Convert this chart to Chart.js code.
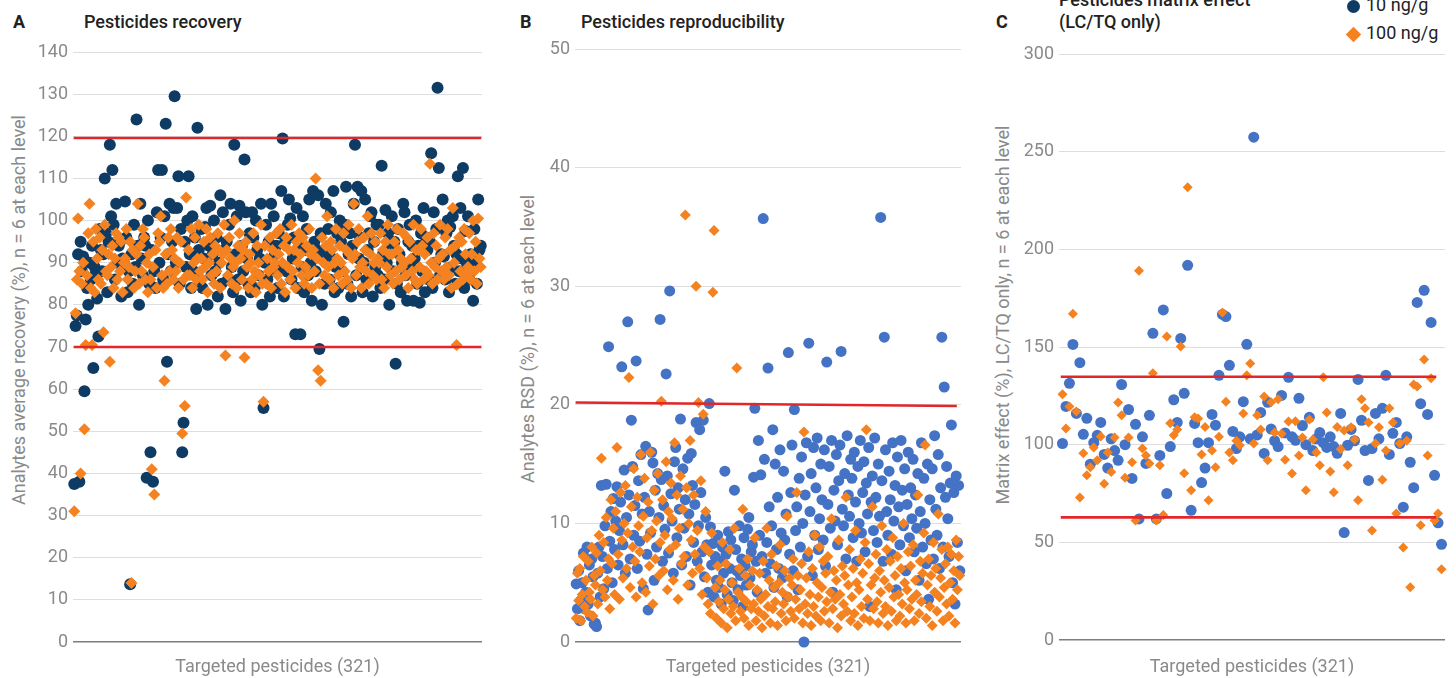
<!DOCTYPE html>
<html>
<head>
<meta charset="utf-8">
<script src="https://cdn.jsdelivr.net/npm/chart.js@4.4.1/dist/chart.umd.min.js"></script>
<style>
body{margin:0;width:1456px;height:678px;background:#fff;font-family:Roboto,"Noto Sans",sans-serif;overflow:hidden;position:relative}
.panel{position:absolute;top:0;height:678px}
.lbl{position:absolute;font-weight:700;font-size:18px;color:#222;line-height:23px}
.ttl{position:absolute;font-weight:500;font-size:18px;color:#222;line-height:22px;white-space:nowrap}
.ytitle{position:absolute;font-size:18px;color:#8a8a8a;white-space:nowrap;transform:translate(-50%,-50%) rotate(-90deg)}
.leg{position:absolute;left:1347px;font-size:18px;color:#222;line-height:22px;white-space:nowrap}
.dot{display:inline-block;width:13px;height:13px;border-radius:50%;background:#0e3b63;vertical-align:middle;margin-right:6px}
.dia{display:inline-block;width:11px;height:11px;background:#f58220;transform:rotate(45deg);vertical-align:middle;margin:0 7px 0 1px}
</style>
</head>
<body>
<div class="lbl" style="left:13px;top:10px">A</div>
<div class="ttl" style="left:84px;top:11px">Pesticides recovery</div>
<div class="lbl" style="left:520px;top:10px">B</div>
<div class="ttl" style="left:581px;top:11px">Pesticides reproducibility</div>
<div class="lbl" style="left:996px;top:10px">C</div>
<div class="ttl" style="left:1059px;top:-11px">Pesticides matrix effect<br>(LC/TQ only)</div>
<div class="leg" style="top:-6px"><span class="dot"></span>10 ng/g</div>
<div class="leg" style="top:22px"><span class="dia"></span>100 ng/g</div>

<div class="ytitle" style="left:18px;top:310px">Analytes average recovery (%), n = 6 at each level</div>
<div class="ytitle" style="left:527px;top:339px">Analytes RSD (%), n = 6 at each level</div>
<div class="ytitle" style="left:1002px;top:315px">Matrix effect (%), LC/TQ only, n = 6 at each level</div>

<div class="panel" style="left:0;width:492px"><canvas id="chA"></canvas></div>
<div class="panel" style="left:500px;width:475px"><canvas id="chB"></canvas></div>
<div class="panel" style="left:980px;width:476px"><canvas id="chC"></canvas></div>

<script>
// Panel A - recovery (%), 321 pesticides
const recoveryLow = [
37.5,75,77.5,92,38,95,88,91.5,59.5,76.5,
84,80,90,86,94,65,89,87.5,81.5,72.5,
98,93,88,92,110,97,83,95,118,101,
112,99,86,104,90,94,95,82,91,90,
104.5,96,83,88,13.7,92,85,99,89,124,
94,80,104,91,87,96,94,39,100,85,
45,93,38,88,84,102,112,90,96,112,
86,101,123,66.5,92,104,88,95,103,129.5,
90,103,110.5,85,98,45,52,95,89,100,
110.5,92,84,101,88,96,79,122,93,86,
98,84,91,98.5,103,80,94,103.5,87,92,
100,88,96,82,90,106,85,102,93,79,
95,86,99,104,89,83,118,92,101,86,
103.5,81,94,88,114.5,102,91,85,97,83,
102,96,84,100,93,87,91,104,80,55.5,
90,99,86,95,82,104,88,101,92,94,
84,97,89,107,119.5,82,95,88,99,105,
100.5,86,91,96,73,103,84,94,73,89,
101,83,93,98,87,105,90,81,107,95,
88,93,106,69.5,97,80,92,85,104,90,
98,86,102,91,107,83,89,97,84,100,
95,88,76,99,108,85,92,97,82,94,
104,118,87,108,91,96,107,83,90,105,
86,93,97,101,102,82,95,89,99,87,
99,84,113,92,86,102.5,90,97,80,93,
101,88,95,66,85,98,92,83,90,104,
102,87,81,95,99,89,94,81,91,100,
85,94,80.5,97,88,103,83,96,93,86,
95,116,84,102,90,98,131.5,112.5,87,92,
105,91.5,86,97,100,83,98.5,89,101,94,
85,92,110.5,88,103,91,112.5,84,97.5,90,
101,86,92,89,81,98,90,85,105,93,94];
const recoveryHigh = [
31,78,86,100.5,88,40,85,90,50.5,70.5,
87,97,104,84,70.5,95,83,98,91,86,
96,85,93,73.5,99,88,87,92,66.5,89,
94,84,91,97,86,96,88,95,83,90,
91,98,86,89,95,14,93,84,88,92,
104,85,94,88,98,96,86,90,83,92,
86,41,89,35,93,84,97,95,101,87,
84,62,92,85,96,88,98,93,86,91,
88,96,84,90,95,49.5,86,56,105.5,87,
93,87,98,84,90,96,86,91,99,88,
91,86,95,89,98,83,90,96,87,92,
85,94,88,97,93,84,90,92,99,68,
93,87,96,91,85,89,100,90,84,94,
97,91,86,93,67.5,95,89,84,92,90,
86,97,88,83,94,90,87,99,85,57,
94,85,91,88,96,84,93,89,90,97,
87,92,98,85,90,94,83,96,89,93,
86,99,88,93,84,95,90,97,92,87,
96,85,89,94,87,98,92,84,93,88,
110,91,64.5,85,62,96,90,87,94,101,
89,86,95,93,84,90,98,91,87,94,
90,85,97,88,93,86,99,92,84,91,
104,92,87,95,98,89,84,90,96,93,
88,101,85,92,97,87,90,95,86,91,
90,97,86,93,84,95,89,99,92,87,
92,85,95,88,98,93,86,91,89,97,
90,87,96,84,95,91,88,99,86,93,
85,93,89,98,94,86,92,88,96,87,
113.5,90,85,97,89,94,86,91,99,88,
92,86,96,89,98,87,93,84,103,90,
94,70.5,85,96,88,95,86,98,92,87,
89,97,86,92,100,88,95,85,100.5,91,89];
const recoveryLimits = [119.6, 70];

// Panel B - RSD (%), 321 pesticides
const rsdLow = [
4.9,2.8,6,1.8,3.5,5,7.5,2.8,4.2,8,
3.2,6.5,2.2,7,5.5,1.5,1.6,1.3,5.8,8,
3.8,13.2,7.2,4.5,9.8,13.3,6.2,24.9,8.5,11,
5,12.1,7.8,10.2,13.1,6.5,9.4,11.8,23.2,8.2,
14.5,5.8,10.5,27,12.4,7,18.7,14.8,9,11.5,
23.7,6.2,13.6,8.5,15.8,10.8,4.5,12.2,16.5,7.4,
2.7,11,9.2,16,15.1,5.2,12.8,8,14.2,10.5,
27.2,13.7,6.8,11.5,9.5,22.6,14,7.5,29.6,12.5,
10.2,5.8,15.2,16.4,8.8,13,11.2,18.8,6.5,14.6,
9.6,12,7.2,15.5,10.8,4.8,15.9,13.2,8.4,11.6,
18.5,6.8,9.8,17.9,12.6,7.6,18.7,5.5,10.5,8.2,
4.2,20.1,9.7,6.5,8.3,3.8,7.2,5.2,9,4.6,
6.8,3.2,8,5.8,14.4,7.4,4,9.3,6.2,8.6,
5,3.5,12.8,7.8,6,4.4,9.8,5.6,7,3,
8.8,6.4,4.8,9.5,10.5,5.4,7.6,8.2,13.9,19.7,
6.8,4.2,17,9,14.1,7.2,35.7,15.4,5.8,8.4,
23.1,11.4,6.6,9.8,17.9,4.6,15,7.8,12.2,6.2,
16.2,9.2,5.4,14.4,8.6,10.8,3.8,24.4,7.4,12.6,
16.6,6,19.6,9.4,11.4,4.4,13.8,8,15.6,10,
0,12.4,16.8,7.2,25.2,11,14.2,5.6,16.4,9,
13,17.2,7.8,10.4,15,12,8.6,16.2,6.4,23.6,
11.6,14.8,9.6,17,4.2,12.8,10.2,15.8,8.2,13.6,
16.6,24.5,11.2,9.8,14.2,7,17.4,12.4,10.6,15.4,
13.8,8.8,16,11.8,6.8,14.8,10,17,9.2,12.6,
15.2,7.6,13.4,10.8,16.4,3,11.8,14,9.4,17.2,
12.2,8.4,15,10.6,35.8,13.6,6.8,25.7,16.2,11,
9,14.4,12,7.4,16.8,10.2,13.2,4.4,15.6,11.4,
8.2,17,12.8,9.8,14.6,6,11.6,16,8.8,13,
10.4,15.4,7.6,12.4,9.6,14.2,5.2,11,16.8,8,
13.8,10,6.6,15,3.6,12,8.6,14.6,7,17.4,
11.2,9,15.8,6.2,13,25.7,8,21.5,12.2,14.8,
10.4,7.2,13.4,18.3,5,12.6,3.2,14,8.4,13.2,6];
const rsdHigh = [
2,5.8,3.5,6.2,1.8,4,7.2,3,5.2,2.5,
6.8,4.2,3.6,8,2.2,5.6,4.8,7.5,3.2,9,
6,15.5,4.4,8.4,3.8,10.5,5.2,7,2.8,12,
6.6,9.6,4,11,16.4,7.4,3.6,12.6,8.6,5.4,
10,13.2,6.2,9.2,22.3,4.6,11.4,8,14.6,6.8,
3.8,12.2,9.8,7.6,15.8,5,10.6,13.8,4.2,8.8,
11.8,6.4,16,9.4,3.2,12.8,7,10.2,14.2,5.6,
8.4,20.3,12,6,9,15.2,4.4,11,7.8,13.4,
10.4,5.2,16.8,8.2,12.4,3.6,9.6,14,6.6,11.2,
7.2,36,13,4.8,10,17,8.6,5.8,12.4,7.4,
30,9.4,20.2,6.2,13.6,4,19.2,8,11,5.4,
3.2,7.6,2.4,9.2,29.5,34.7,4.6,2,6.4,3.4,
5.2,1.6,8.4,2.8,4.4,6.6,1.2,3.6,7.8,2.4,
5,3,9.6,1.8,23.1,4.2,6.2,2.6,3.8,11.2,
2,5.6,3.4,7,1.4,4.8,2.8,6,3.2,8.8,
1.8,4.4,2.6,5.8,3.6,1.2,6.8,2.2,4,9.6,
3,5.2,1.6,7.4,2.8,4.6,3.4,6.4,1.4,5,
8.2,2.4,4.2,3.2,6,1.8,10.6,3.8,5.4,2.6,
4.8,7,2,3.6,12.6,5.6,2.8,4.4,6.6,1.6,
17.7,3.2,5.4,2.4,7.6,4,1.4,6.2,3,9,
2.2,5,3.8,8,1.8,4.6,6.8,2.6,5.8,3.4,
7.2,1.6,4.2,10.4,2.8,6,3.6,5.2,1.2,8.6,
4,2.2,6.4,3.2,5.6,12.2,2.6,4.8,7.8,1.8,
3.8,6.2,2.4,9.4,5,1.4,4.4,7,3,5.8,
2,8.4,17.9,3.6,6.6,1.8,4.8,11.4,2.8,5.4,
7.4,3.4,1.6,6,4.2,9.8,2.4,5.2,3,7.8,
1.4,4.6,6.8,2.6,8.8,3.8,5.6,1.8,7.2,4,
2.2,6.2,3.2,10,5,1.6,4.4,7.6,2.8,6.4,
3.6,8.2,1.8,5.2,4,12.4,2.4,6.8,3.4,5.8,
9.2,16.6,2,4.8,7,3,5.6,1.4,8.4,4.2,
6.2,2.6,10.8,3.8,5.4,7.8,1.8,4.6,6.6,3.2,
8,2.2,5,7.4,3.6,6,1.6,8.6,4.4,7.2,5.6];
const rsdLimit = [20.2, 19.9];

// Panel C - matrix effect (%), LC/TQ pesticides
const matrixLow = [
100.6,119.6,131.4,151.3,116,142,105.3,113.5,90,101,
104.8,111.4,95,88,103,97,92,130.8,100,118,
82.7,110.4,62,104,90.4,115,157,62,94.5,169,
75,99,123,111.4,154.4,126.3,191.8,66.4,110.9,101,
80.6,88,101,115.5,110,135.5,166.7,165.6,140.6,106.8,
98,104,122,151.4,103,257.4,105,116.5,95.5,121.7,
108,102,99,125.2,106,134.5,104,102.2,123.7,109.8,
100,114,97,103,106.2,101,98.6,104,99,95.6,
116,55,99.7,107.8,102,133.4,112.5,97,81.7,98,
116,103,118.6,135.5,95,105.8,111.4,100.6,68,104,
91,78,172.8,121,179,115.5,162.6,84.3,60,49];
const matrixHigh = [
125.8,108.3,119.6,167,117,73,95.6,84.4,88.4,98.6,
92,104.2,80,96,86,103.7,121.6,115,83,103.7,
91,61.2,189,98,94.5,90.4,136.5,61.2,89.4,64,
155.4,111,104.8,107.8,150.3,85.4,231.8,76.6,114,113.4,
95,109,71.5,97,88.4,104,167.6,122,96,92,
102,99.7,116,135.5,141.6,100.6,115,107.8,124.7,92,
121.7,106.2,123.2,105.6,92.3,111.9,85.3,112,94.5,103.7,
76.6,112.9,102.7,96,89.4,134.5,116.5,86.3,75.6,109,
97.6,107.3,89.4,108.9,102.7,71.5,123.2,118.6,111.4,56.1,
100.6,108.9,82,97,118.6,111.4,64.8,100.6,47.4,102,
27,130.8,129.8,58.7,143.6,94.5,134,61.2,64.8,36.2];
const matrixLimits = [134.8, 62.8];

const navy = '#0e3b63', blue = '#4472c4', orange = '#f58220', red = '#e3262a';

function pts(arr) {
  return arr.map((v, i) => ({x: i + 1, y: v}));
}

function makePanel(id, o) {
  const n = o.low.length;
  new Chart(document.getElementById(id), {
    type: 'scatter',
    data: {
      datasets: [
        {label: '10 ng/g', data: pts(o.low), pointStyle: 'circle', pointRadius: o.r, pointHoverRadius: o.r,
          backgroundColor: o.lowColor, borderWidth: 0, order: 3},
        {label: '100 ng/g', data: pts(o.high), pointStyle: 'rectRot', pointRadius: o.rd, pointHoverRadius: o.rd,
          backgroundColor: orange, borderWidth: 0, order: 2},
        ...o.lines.map(l => ({type: 'line', data: [{x: 0.5, y: l[0]}, {x: n + 0.5 - (o.lineTrim || 0), y: l[1]}],
          borderColor: red, borderWidth: 2.6, pointRadius: 0, order: 1}))
      ]
    },
    options: {
      responsive: true,
      maintainAspectRatio: false,
      animation: false,
      clip: false,
      layout: {padding: {top: o.top, right: o.right, bottom: 0, left: 0}},
      plugins: {legend: {display: false}, tooltip: {enabled: false}},
      scales: {
        x: {
          type: 'linear', min: 0, max: n + 1,
          ticks: {display: false},
          grid: {display: false},
          border: {display: false},
          title: {display: true, text: 'Targeted pesticides (321)', color: '#8a8a8a',
            font: {family: 'Roboto', size: 18}, padding: {top: 0, bottom: 0}},
          afterFit: s => { s.height = 678 - o.bottom; }
        },
        y: {
          min: 0, max: o.max,
          ticks: {stepSize: o.step, color: '#8a8a8a', font: {family: 'Roboto', size: 18}, padding: 5},
          grid: {drawTicks: false,
            color: c => c.tick && c.tick.value === 0 ? '#7d7d7d' : '#dedede',
            lineWidth: c => c.tick && c.tick.value === 0 ? 1.6 : 1},
          border: {display: false},
          afterFit: s => { s.width = o.yw; s.paddingTop = 0; s.paddingBottom = 0; }
        }
      }
    }
  });
}

makePanel('chA', {low: recoveryLow, high: recoveryHigh, lowColor: navy, r: 6, rd: 6,
  lines: recoveryLimits.map(v => [v, v]), max: 140, step: 10, yw: 73, top: 52, bottom: 642, right: 10});
makePanel('chB', {low: rsdLow, high: rsdHigh, lowColor: blue, r: 5.5, rd: 5.5,
  lines: [rsdLimit], max: 50, step: 10, yw: 75, top: 49, bottom: 642, right: 14, lineTrim: 3});
makePanel('chC', {low: matrixLow, high: matrixHigh, lowColor: blue, r: 5.5, rd: 5,
  lines: matrixLimits.map(v => [v, v]), max: 300, step: 50, yw: 79, top: 54, bottom: 640, right: 11, lineTrim: 2});
</script>
</body>
</html>
